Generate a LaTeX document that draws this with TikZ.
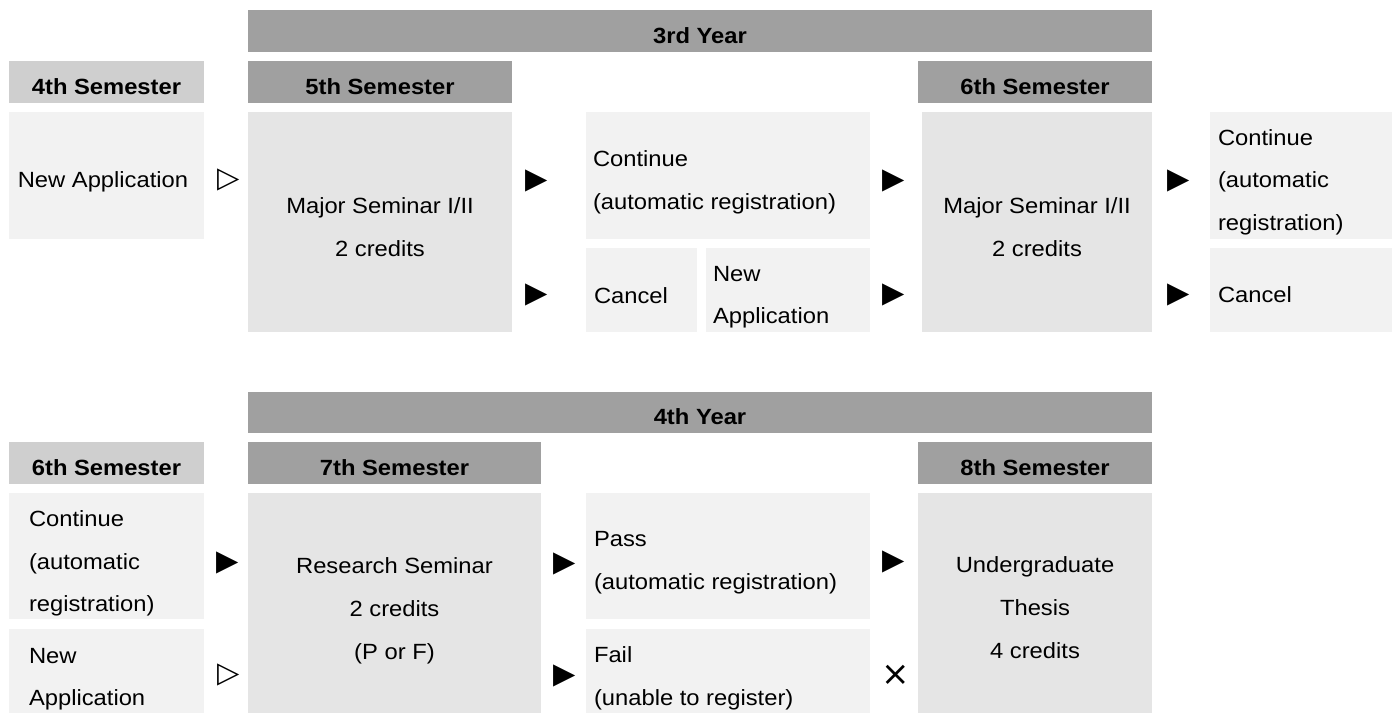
\documentclass[tikz,border=0pt]{standalone}
\usepackage{fontspec}
\setmainfont{Liberation Sans}[FakeStretch=1.08]
\newfontfamily\symfont{DejaVu Sans}
\definecolor{barDark}{RGB}{160,160,160}
\definecolor{barLight}{RGB}{207,207,207}
\definecolor{mainFill}{RGB}{229,229,229}
\definecolor{optFill}{RGB}{242,242,242}
\newcommand\mybox[6]{\node[#1, minimum width={(#5-#3)*1pt}, minimum height={(#6-#4)*1pt}] (#2) at (#3,#4) {};}
\tikzset{
  box/.style={draw=none, inner sep=0pt, outer sep=0pt, anchor=north west},
  darkbar/.style={box, fill=barDark},
  lightbar/.style={box, fill=barLight},
  mainbox/.style={box, fill=mainFill},
  optbox/.style={box, fill=optFill},
  lbl/.style={inner sep=0pt, outer sep=0pt, text=black, font=\fontsize{22}{43}\selectfont},
  hdr/.style={lbl, font=\fontsize{22}{43}\selectfont\bfseries, anchor=base},
  ctext/.style={lbl, anchor=base},
  ltext/.style={lbl, anchor=base west},
  sym/.style={inner sep=0pt, outer sep=0pt, text=black, font=\symfont\fontsize{29}{29}\selectfont, anchor=center},
  cross/.style={sym, font=\symfont\fontsize{34}{34}\selectfont}
}
\begin{document}
\begin{tikzpicture}[x=1pt,y=-1pt]
\useasboundingbox (0,0) rectangle (1397,713);
% ---------- top section ----------
\mybox{darkbar}{yr3}{248}{10}{1152}{51.7}
\mybox{lightbar}{s4}{9}{61}{204}{102.7}
\mybox{darkbar}{s5}{248}{61}{512}{102.7}
\mybox{darkbar}{s6}{918}{61}{1152}{102.7}
\mybox{optbox}{na1}{9}{112}{204}{238.7}
\mybox{mainbox}{ms5}{248}{112}{512}{331.7}
\mybox{optbox}{co1}{586}{112}{870}{238.7}
\mybox{optbox}{ca1}{586}{248.3}{697}{331.7}
\mybox{optbox}{na2}{706}{248.3}{870}{331.7}
\mybox{mainbox}{ms6}{922}{112}{1152}{331.7}
\mybox{optbox}{co2}{1210}{112}{1392}{238.7}
\mybox{optbox}{ca2}{1210}{248.3}{1392}{331.7}

\node[hdr] (t3y) at (700,43.3) {3rd Year};
\node[hdr] (t4s) at (106.5,94) {4th Semester};
\node[hdr] (t5s) at (380,94) {5th Semester};
\node[hdr] (t6s) at (1035,94) {6th Semester};
\node[ctext] (tna1) at (103,187) {New Application};
\node[sym] (a1) at (228.5,179.5) {▷};
\node[ctext] (tms5a) at (380,213) {Major Seminar I/II};
\node[ctext] (tms5b) at (380,256) {2 credits};
\node[sym] (a2) at (537,180.5) {▶};
\node[sym] (a3) at (537,295) {▶};
\node[ltext] (tco1a) at (593,166) {Continue};
\node[ltext] (tco1b) at (593,209) {(automatic registration)};
\node[ltext] (tca1) at (594,303) {Cancel};
\node[ltext] (tna2a) at (713,281) {New};
\node[ltext] (tna2b) at (713,323.5) {Application};
\node[sym] (a4) at (893.5,180.5) {▶};
\node[sym] (a5) at (893.5,295) {▶};
\node[ctext] (tms6a) at (1037,213) {Major Seminar I/II};
\node[ctext] (tms6b) at (1037,256) {2 credits};
\node[sym] (a6) at (1178.5,180.5) {▶};
\node[sym] (a7) at (1178.5,295) {▶};
\node[ltext] (tco2a) at (1218,145) {Continue};
\node[ltext] (tco2b) at (1218,187.5) {(automatic};
\node[ltext] (tco2c) at (1218,230) {registration)};
\node[ltext] (tca2) at (1218,302.7) {Cancel};

% ---------- bottom section ----------
\mybox{darkbar}{yr4}{248}{392.3}{1152}{432.7}
\mybox{lightbar}{s6b}{9}{442.3}{204}{484}
\mybox{darkbar}{s7}{248}{442.3}{541}{484}
\mybox{darkbar}{s8}{918}{442.3}{1152}{484}
\mybox{optbox}{co3}{9}{493.3}{204}{619.3}
\mybox{optbox}{na3}{9}{629.3}{204}{713}
\mybox{mainbox}{rs}{248}{493.3}{541}{713}
\mybox{optbox}{pa}{586}{493.3}{870}{619.3}
\mybox{optbox}{fa}{586}{629.3}{870}{713}
\mybox{mainbox}{th}{918}{493.3}{1152}{713}

\node[hdr] (t4y) at (700,424.3) {4th Year};
\node[hdr] (t6sb) at (106.5,475.5) {6th Semester};
\node[hdr] (t7s) at (394.5,475.5) {7th Semester};
\node[hdr] (t8s) at (1035,475.5) {8th Semester};
\node[ltext] (tco3a) at (29,526.7) {Continue};
\node[ltext] (tco3b) at (29,569) {(automatic};
\node[ltext] (tco3c) at (29,611.7) {registration)};
\node[ltext] (tna3a) at (29,663.3) {New};
\node[ltext] (tna3b) at (29,705) {Application};
\node[sym] (b1) at (228,562.5) {▶};
\node[sym] (b2) at (228.5,675) {▷};
\node[ctext] (trsa) at (394.5,573) {Research Seminar};
\node[ctext] (trsb) at (394.5,616) {2 credits};
\node[ctext] (trsc) at (394.5,659) {(P or F)};
\node[sym] (b3) at (564.5,563.5) {▶};
\node[sym] (b4) at (564.5,675.5) {▶};
\node[ltext] (tpaa) at (594,546.7) {Pass};
\node[ltext] (tpab) at (594,589) {(automatic registration)};
\node[ltext] (tfaa) at (594,662.7) {Fail};
\node[ltext] (tfab) at (594,705) {(unable to register)};
\node[sym] (b5) at (894,562) {▶};
\node[cross] (b6) at (896,675.5) {×};
\node[ctext] (ttha) at (1035,572.7) {Undergraduate};
\node[ctext] (tthb) at (1035,615) {Thesis};
\node[ctext] (tthc) at (1035,658) {4 credits};
\end{tikzpicture}
\end{document}
